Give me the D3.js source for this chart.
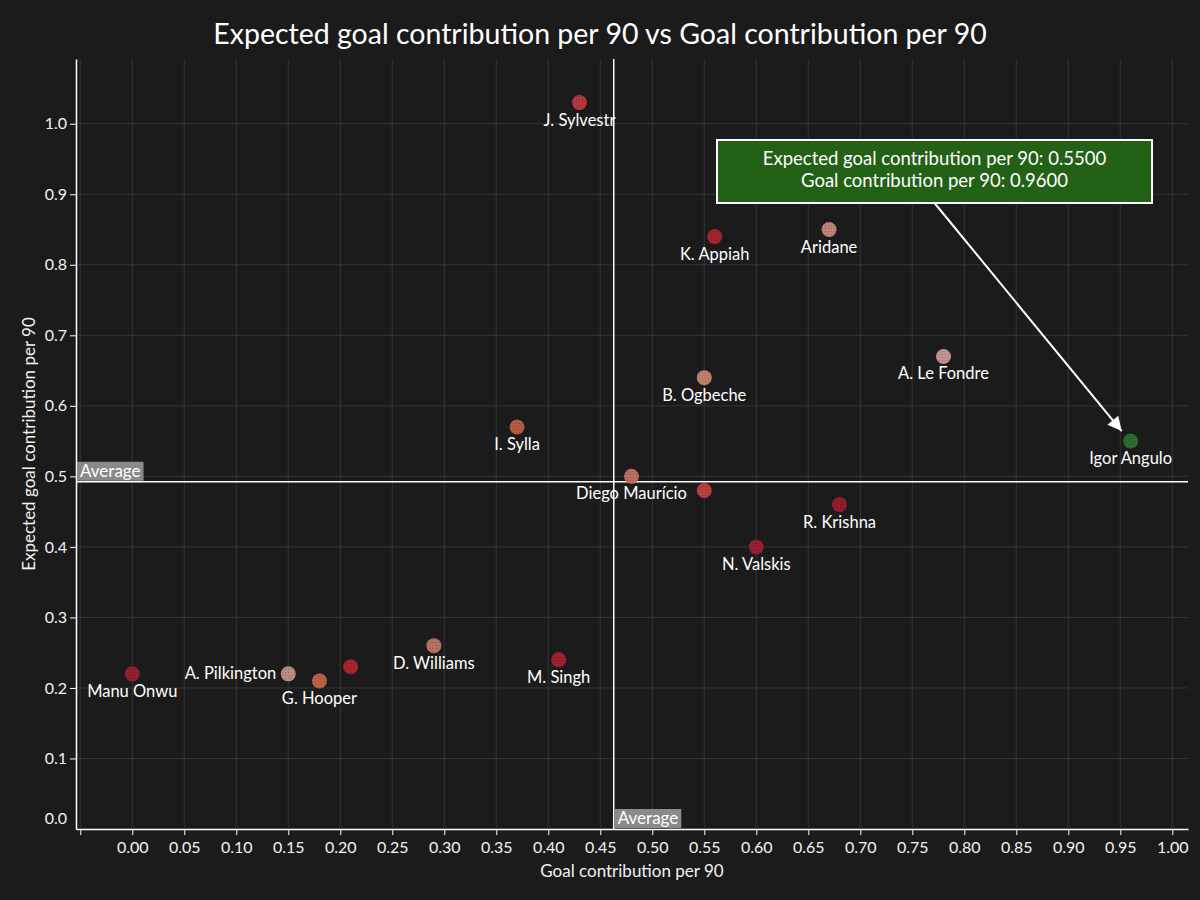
<!DOCTYPE html>
<html>
<head>
<meta charset="utf-8">
<script src="https://cdn.jsdelivr.net/npm/d3@7"></script>
<style>
  html, body { margin: 0; padding: 0; background: #1b1b1b; }
  svg { display: block; font-family: Lato, "Open Sans", sans-serif; }
</style>
</head>
<body>
<svg id="chart" width="1200" height="900"></svg>
<script>
// ---- data ----
const players = ["J. Sylvestr", "K. Appiah", "Aridane", "A. Le Fondre", "B. Ogbeche", "I. Sylla",
  "Igor Angulo", "Diego Maurício", "", "R. Krishna", "N. Valskis", "D. Williams", "M. Singh",
  "Manu Onwu", "A. Pilkington", "G. Hooper", ""];
const goalContribution = [0.43, 0.56, 0.67, 0.78, 0.55, 0.37, 0.96, 0.48, 0.55, 0.68, 0.60, 0.29, 0.41, 0.00, 0.15, 0.18, 0.21];
const expectedContribution = [1.03, 0.84, 0.85, 0.67, 0.64, 0.57, 0.55, 0.50, 0.48, 0.46, 0.40, 0.26, 0.24, 0.22, 0.22, 0.21, 0.23];
const pointColors = ["#b3383d", "#a3262f", "#bf8274", "#c09590", "#bf8070", "#b55a45",
  "#2a6e2e", "#b86f60", "#b84040", "#8f1e2e", "#961f30", "#b87060", "#a0222f",
  "#932030", "#bd8d85", "#b8624a", "#a5252f"];
const labelSide = ["below", "below", "below", "below", "below", "below", "below", "below", "none",
  "below", "below", "below", "below", "below", "left", "below", "none"];
const xTicks = [-0.05, 0, 0.05, 0.10, 0.15, 0.20, 0.25, 0.30, 0.35, 0.40, 0.45, 0.50, 0.55, 0.60, 0.65, 0.70, 0.75, 0.80, 0.85, 0.90, 0.95, 1.00];
const yTicks = [0, 0.1, 0.2, 0.3, 0.4, 0.5, 0.6, 0.7, 0.8, 0.9, 1.0];
const highlightIndex = 6;
const titleText = "Expected goal contribution per 90 vs Goal contribution per 90";
const xLabel = "Goal contribution per 90";
const yLabel = "Expected goal contribution per 90";

const data = players.map((p, i) => ({
  name: p, x: goalContribution[i], y: expectedContribution[i], color: pointColors[i], side: labelSide[i]
}));

// ---- layout ----
const svg = d3.select("#chart");
const mLeft = 76, mRight = 1188, mTop = 59, mBottom = 829;
const x = d3.scaleLinear().domain([-0.0541, 1.0151]).range([mLeft, mRight]);
const y = d3.scaleLinear().domain([0, d3.max(expectedContribution) * 1.06]).range([mBottom, mTop]);

svg.append("rect").attr("width", 1200).attr("height", 900).attr("fill", "#1b1b1b");

const defs = svg.append("defs");
const pat = defs.append("pattern").attr("id", "dots").attr("width", 3).attr("height", 3)
  .attr("patternUnits", "userSpaceOnUse");
pat.append("rect").attr("width", 1).attr("height", 1).attr("fill", "rgba(0,0,0,0.22)");

const arrow = defs.append("marker").attr("id", "arrow").attr("viewBox", "0 0 10 10")
  .attr("refX", 10).attr("refY", 5).attr("markerWidth", 16).attr("markerHeight", 14)
  .attr("markerUnits", "userSpaceOnUse").attr("orient", "auto");
arrow.append("path").attr("d", "M0,0 L10,5 L0,10 z").attr("fill", "#ffffff");

// grid
const grid = svg.append("g");
grid.selectAll("line.gx").data(xTicks).join("line").attr("class", "gx")
  .attr("x1", d => x(d)).attr("x2", d => x(d)).attr("y1", mTop).attr("y2", mBottom)
  .attr("stroke", "#353535").attr("stroke-width", 1);
grid.selectAll("line.gy").data(yTicks.slice(1)).join("line").attr("class", "gy")
  .attr("x1", mLeft).attr("x2", mRight).attr("y1", d => y(d)).attr("y2", d => y(d))
  .attr("stroke", "#353535").attr("stroke-width", 1);

// axes
const xAxis = d3.axisBottom(x).tickValues(xTicks).tickSize(6).tickSizeOuter(0)
  .tickFormat(d => d < 0 ? "" : d3.format(".2f")(d));
const gx = svg.append("g").attr("transform", `translate(0,${mBottom})`).call(xAxis);
const yAxis = d3.axisLeft(y).tickValues(yTicks).tickSize(6).tickSizeOuter(0)
  .tickFormat(d3.format(".1f"));
const gy = svg.append("g").attr("transform", `translate(${mLeft},0)`).call(yAxis);
[gx, gy].forEach(g => {
  g.select(".domain").attr("stroke", "#ffffff").attr("stroke-width", 1.5);
  g.selectAll(".tick line").attr("stroke", "#ffffff");
  g.selectAll(".tick text").attr("fill", "#f2f2f2").attr("font-size", 16)
    .attr("font-family", "Lato, sans-serif");
});
gx.selectAll(".tick text").attr("dy", "0.95em");
gy.selectAll(".tick text").filter(d => d === 0).attr("dy", "-0.35em");
gy.selectAll(".tick line").filter(d => d === 0).remove();

// axis titles
svg.append("text").attr("x", (mLeft + mRight) / 2).attr("y", 877).attr("text-anchor", "middle")
  .attr("fill", "#f2f2f2").attr("font-size", 17).text(xLabel);
svg.append("text").attr("transform", `translate(35,${(mTop + mBottom) / 2}) rotate(-90)`)
  .attr("text-anchor", "middle").attr("fill", "#f2f2f2").attr("font-size", 17).text(yLabel);

// title
svg.append("text").attr("x", 600).attr("y", 44).attr("text-anchor", "middle")
  .attr("fill", "#ffffff").attr("font-size", 28.5).text(titleText);

// average lines
const avgX = d3.mean(goalContribution), avgY = d3.mean(expectedContribution);
svg.append("line").attr("x1", x(avgX)).attr("x2", x(avgX)).attr("y1", mTop).attr("y2", mBottom)
  .attr("stroke", "#ffffff").attr("stroke-width", 1.5);
svg.append("line").attr("x1", mLeft).attr("x2", mRight).attr("y1", y(avgY)).attr("y2", y(avgY))
  .attr("stroke", "#ffffff").attr("stroke-width", 1.5);

function avgLabel(px, py) {
  const g = svg.append("g").attr("transform", `translate(${px},${py})`);
  const t = g.append("text").attr("x", 3).attr("y", 15).attr("fill", "#ffffff")
    .attr("font-size", 17).text("Average");
  const w = t.node().getComputedTextLength();
  g.insert("rect", "text").attr("width", w + 6).attr("height", 19).attr("fill", "#8a8a8a");
}
avgLabel(mLeft + 1, y(avgY) - 20);
avgLabel(x(avgX) + 1, mBottom - 20);

// points
const pts = svg.append("g");
pts.selectAll("circle.p").data(data).join("circle").attr("class", "p")
  .attr("cx", d => x(d.x)).attr("cy", d => y(d.y)).attr("r", 7.5).attr("fill", d => d.color);
pts.selectAll("circle.t").data(data).join("circle").attr("class", "t")
  .attr("cx", d => x(d.x)).attr("cy", d => y(d.y)).attr("r", 7.5).attr("fill", "url(#dots)");

// labels
svg.append("g").selectAll("text").data(data.filter(d => d.side !== "none")).join("text")
  .attr("x", d => d.side === "left" ? x(d.x) - 12 : x(d.x))
  .attr("y", d => d.side === "left" ? y(d.y) + 5 : y(d.y) + 23)
  .attr("text-anchor", d => d.side === "left" ? "end" : "middle")
  .attr("fill", "#ffffff").attr("font-size", 16.5)
  .text(d => d.name);

// annotation for highlighted point
const h = data[highlightIndex];
const boxCx = 934.5, boxW = 435, boxH = 63, boxTop = 140;
svg.append("line").attr("x1", boxCx).attr("y1", boxTop + boxH)
  .attr("x2", x(h.x) - 9).attr("y2", y(h.y) - 10)
  .attr("stroke", "#ffffff").attr("stroke-width", 2).attr("marker-end", "url(#arrow)");
svg.append("rect").attr("x", boxCx - boxW / 2).attr("y", boxTop).attr("width", boxW).attr("height", boxH)
  .attr("fill", "#236116").attr("stroke", "#ffffff").attr("stroke-width", 2);
const fmt4 = d3.format(".4f");
svg.append("text").attr("x", boxCx).attr("y", boxTop + 25).attr("text-anchor", "middle")
  .attr("fill", "#ffffff").attr("font-size", 18.5)
  .text(`${yLabel}: ${fmt4(h.y)}`);
svg.append("text").attr("x", boxCx).attr("y", boxTop + 47).attr("text-anchor", "middle")
  .attr("fill", "#ffffff").attr("font-size", 18.5)
  .text(`${xLabel}: ${fmt4(h.x)}`);
</script>
</body>
</html>
